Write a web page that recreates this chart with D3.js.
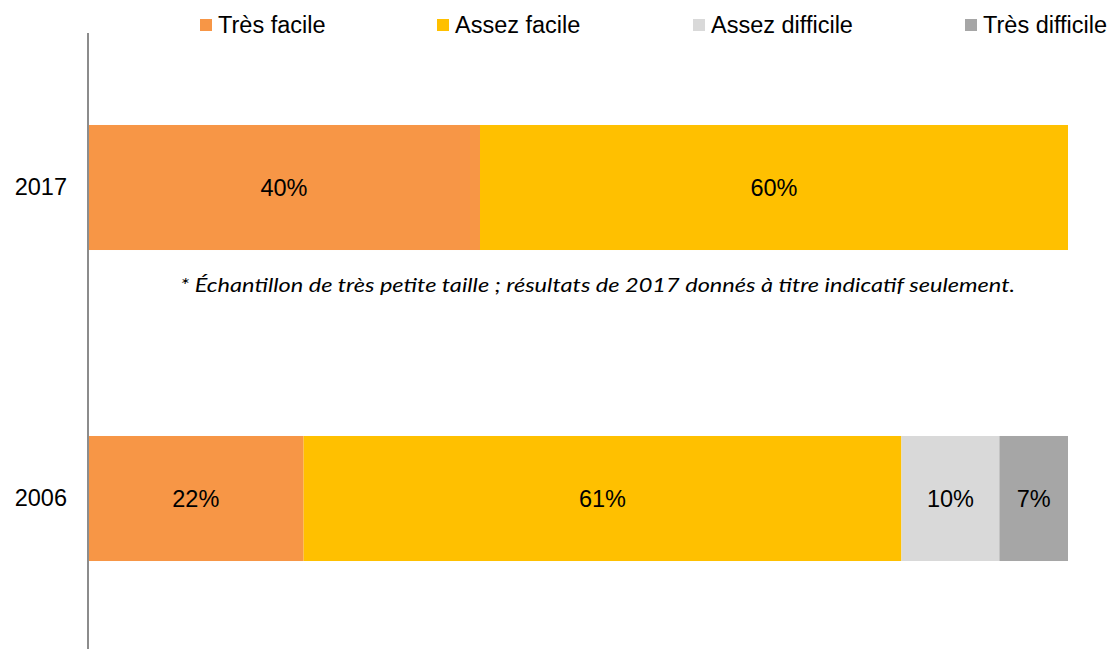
<!DOCTYPE html>
<html><head><meta charset="utf-8">
<script src="https://cdn.jsdelivr.net/npm/d3@7"></script>
<style>body{margin:0;background:#fff}svg{display:block}</style>
</head><body>
<svg id="c" width="1118" height="649"></svg>
<script>
const years = ["2017", "2006"];
const seriesNames = ["Très facile", "Assez facile", "Assez difficile", "Très difficile"];
const seriesColors = ["#F79646", "#FFC000", "#D9D9D9", "#A6A6A6"];
const values2017 = [40, 60, 0, 0];
const values2006 = [22, 61, 10, 7];
const note = "* Échantillon de très petite taille ; résultats de 2017 donnés à titre indicatif seulement.";

const rows = [values2017, values2006].map((v, i) => {
  const r = {year: years[i]};
  seriesNames.forEach((s, j) => r[s] = v[j]);
  return r;
});
const stacked = d3.stack().keys(seriesNames)(rows);

const svg = d3.select("#c");
const x = d3.scaleLinear().domain([0, 100]).range([88, 1068]);
const y = d3.scaleBand().domain(years).range([32, 654]).paddingInner(0.598).paddingOuter(0.299);

const font = "'Liberation Sans', Arial, sans-serif";
const fs = 23.5;

// bars
svg.append("g").selectAll("g").data(stacked).join("g")
  .attr("fill", (d, i) => seriesColors[i])
  .selectAll("rect").data(d => d.filter(p => p[1] - p[0] > 0)).join("rect")
  .attr("x", p => x(p[0])).attr("width", p => x(p[1]) - x(p[0]))
  .attr("y", p => y(p.data.year)).attr("height", y.bandwidth());

// labels
svg.append("g").selectAll("g").data(stacked).join("g")
  .selectAll("text").data(d => d.filter(p => p[1] - p[0] > 0)).join("text")
  .attr("x", p => (x(p[0]) + x(p[1])) / 2)
  .attr("y", p => y(p.data.year) + y.bandwidth() / 2)
  .attr("dy", "0.35em").attr("text-anchor", "middle")
  .attr("font-family", font).attr("font-size", fs).attr("fill", "#000")
  .text(p => (p[1] - p[0]) + "%");

// axis
const ax = svg.append("g").attr("transform", "translate(88,0)")
  .call(d3.axisLeft(y).tickSize(0).tickPadding(21));
ax.select(".domain").attr("stroke", "#8c8c8c").attr("stroke-width", 2)
  .attr("d", "M0,33V649");
ax.selectAll("text").attr("font-family", font).attr("font-size", fs).attr("fill", "#000");

// legend
const legX = [200, 437, 693, 965];
const leg = svg.append("g").selectAll("g").data(seriesNames).join("g")
  .attr("transform", (d, i) => `translate(${legX[i]},0)`);
leg.append("rect").attr("x", 0).attr("y", 19).attr("width", 12).attr("height", 12)
  .attr("fill", (d, i) => seriesColors[i]);
leg.append("text").attr("x", 18).attr("y", 32.5)
  .attr("font-family", font).attr("font-size", fs).attr("fill", "#000").text(d => d);

// note
svg.append("text").attr("x", 180).attr("y", 292)
  .attr("font-family", "Lato, 'Open Sans', sans-serif").attr("font-style", "italic")
  .attr("font-size", 19).attr("textLength", 835).attr("lengthAdjust", "spacingAndGlyphs")
  .attr("fill", "#000").text(note);
</script>
</body></html>
